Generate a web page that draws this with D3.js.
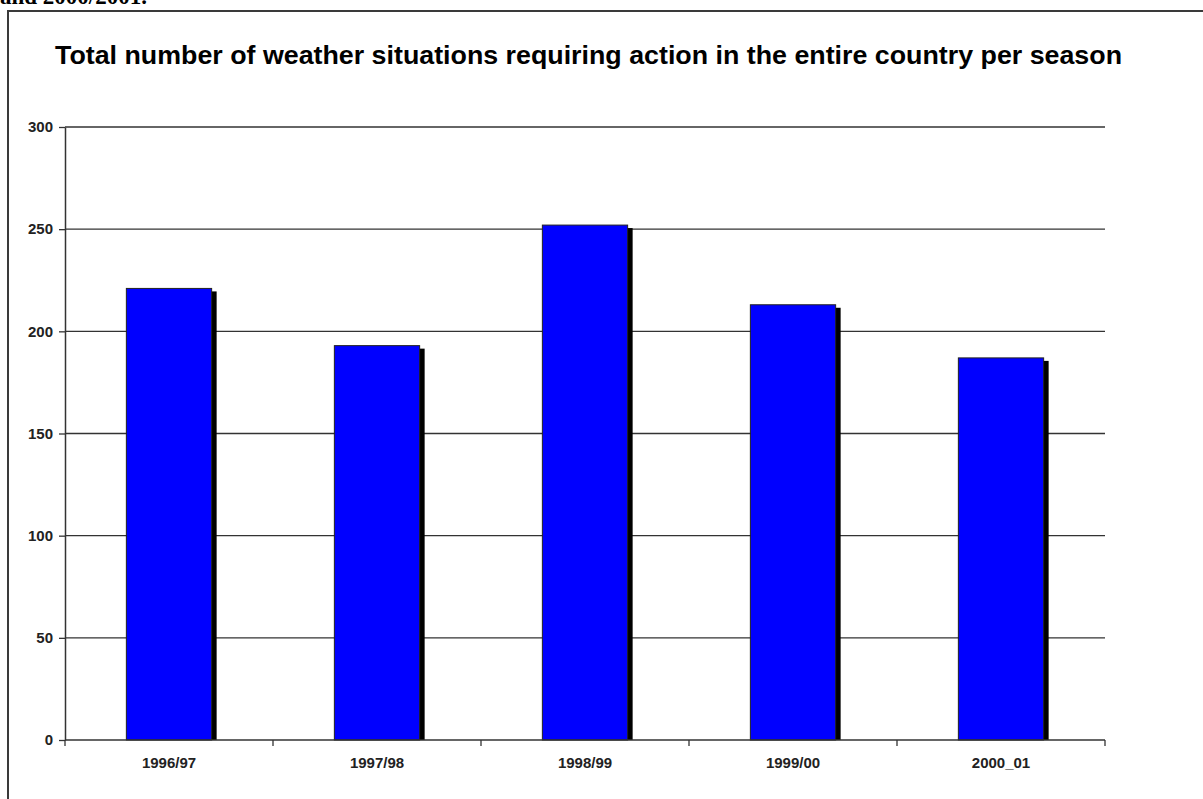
<!DOCTYPE html>
<html>
<head>
<meta charset="utf-8">
<script src="https://cdn.jsdelivr.net/npm/d3@7"></script>
<style>
  html, body { margin: 0; padding: 0; background: #fff; overflow: hidden; }
  svg { display: block; }
</style>
</head>
<body>
<svg id="chart" width="1203" height="799"></svg>
<script>
// Seasons and the number of weather situations that required action
const seasons = ["1996/97", "1997/98", "1998/99", "1999/00", "2000_01"];
const situations = [221, 193, 252, 213, 187];
const yTicks = [0, 50, 100, 150, 200, 250, 300];
const titleText = "Total number of weather situations requiring action in the entire country per season";

const svg = d3.select("#chart");
const font = "'Liberation Sans', Arial, sans-serif";

// Tail of the paragraph above the figure
svg.append("text")
  .attr("x", 0).attr("y", 4)
  .attr("font-family", "'Liberation Serif', 'Times New Roman', serif")
  .attr("font-weight", "bold")
  .attr("font-size", 23)
  .attr("fill", "#000")
  .text("and 2000/2001.");

// Figure frame
svg.append("rect")
  .attr("x", 8).attr("y", 11)
  .attr("width", 1220).attr("height", 820)
  .attr("fill", "none")
  .attr("stroke", "#3a3a3a")
  .attr("stroke-width", 2);

// Title
svg.append("text")
  .attr("x", 55).attr("y", 64)
  .attr("font-family", font)
  .attr("font-weight", "bold")
  .attr("font-size", 26)
  .attr("fill", "#000")
  .attr("textLength", 1067)
  .attr("lengthAdjust", "spacingAndGlyphs")
  .text(titleText);

const plot = { left: 65, right: 1105, top: 127, bottom: 740 };

const x = d3.scaleBand()
  .domain(seasons)
  .range([plot.left, plot.right])
  .paddingInner(0.59)
  .paddingOuter(0.295);

const y = d3.scaleLinear()
  .domain([0, 300])
  .range([plot.bottom, plot.top]);

// Horizontal gridlines
svg.append("g")
  .selectAll("line")
  .data(yTicks.filter(d => d > 0))
  .join("line")
  .attr("x1", plot.left).attr("x2", plot.right)
  .attr("y1", d => y(d)).attr("y2", d => y(d))
  .attr("stroke", "#333")
  .attr("stroke-width", 1.3);

// Bars with drop shadows
const bars = svg.append("g");
bars.selectAll("rect.shadow")
  .data(situations)
  .join("rect")
  .attr("class", "shadow")
  .attr("x", (d, i) => x(seasons[i]) + 5)
  .attr("y", d => y(d) + 3)
  .attr("width", x.bandwidth())
  .attr("height", d => plot.bottom - y(d) - 3)
  .attr("fill", "#000");

bars.selectAll("rect.bar")
  .data(situations)
  .join("rect")
  .attr("class", "bar")
  .attr("x", (d, i) => x(seasons[i]))
  .attr("y", d => y(d))
  .attr("width", x.bandwidth())
  .attr("height", d => plot.bottom - y(d))
  .attr("fill", "#0000ff")
  .attr("stroke", "#222")
  .attr("stroke-width", 1);

// Y axis
const yAxis = svg.append("g")
  .attr("transform", `translate(${plot.left},0)`)
  .call(d3.axisLeft(y).tickValues(yTicks).tickSize(6).tickPadding(6).tickSizeOuter(0));
yAxis.select(".domain").attr("stroke", "#333").attr("stroke-width", 1.5);
yAxis.selectAll(".tick line").attr("stroke", "#333").attr("stroke-width", 1.3);
yAxis.selectAll(".tick text")
  .attr("font-family", font)
  .attr("font-weight", "bold")
  .attr("font-size", 15)
  .attr("fill", "#222");

// X axis with ticks on band boundaries
const xAxisG = svg.append("g")
  .attr("transform", `translate(0,${plot.bottom})`);
xAxisG.append("line")
  .attr("x1", plot.left).attr("x2", plot.right)
  .attr("stroke", "#333").attr("stroke-width", 1.5);
const step = x.step();
const boundaries = d3.range(seasons.length + 1).map(i => plot.left + i * step);
xAxisG.selectAll("line.tk")
  .data(boundaries)
  .join("line")
  .attr("class", "tk")
  .attr("x1", d => d).attr("x2", d => d)
  .attr("y1", 0).attr("y2", 6)
  .attr("stroke", "#333").attr("stroke-width", 1.3);
xAxisG.selectAll("text")
  .data(seasons)
  .join("text")
  .attr("x", d => x(d) + x.bandwidth() / 2)
  .attr("y", 28)
  .attr("text-anchor", "middle")
  .attr("font-family", font)
  .attr("font-weight", "bold")
  .attr("font-size", 15)
  .attr("fill", "#222")
  .text(d => d);
</script>
</body>
</html>
